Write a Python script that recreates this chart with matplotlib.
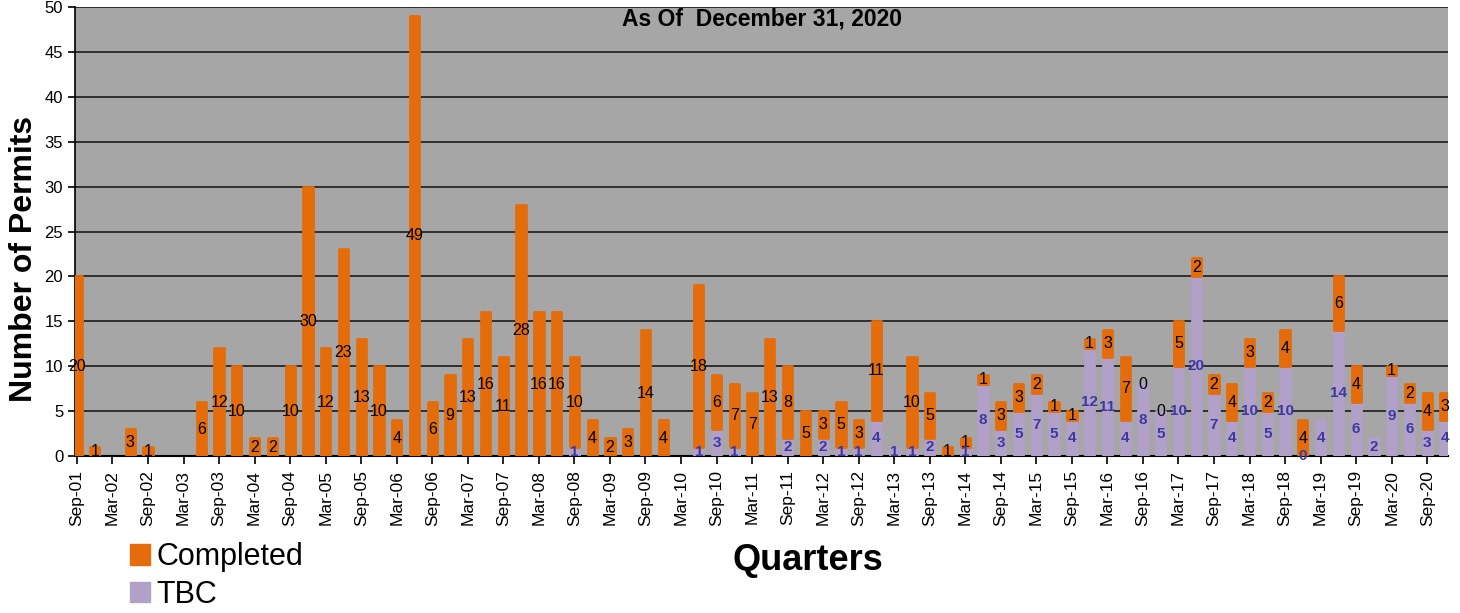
import numpy as np
import matplotlib
matplotlib.use("Agg")
import matplotlib.pyplot as plt
from matplotlib.patches import Patch

plt.rcParams['font.family'] = ['Liberation Sans', 'DejaVu Sans']
nan = np.nan
#------------------------------
# quarters Sep-01 .. Dec-20
quarters = ["Sep-01", "Dec-01"] + [m + "-%02d" % y for y in range(2, 21) for m in ["Mar", "Jun", "Sep", "Dec"]]

completed = [20, 1, nan, 3, 1, nan, nan, 6, 12, 10,
             2, 2, 10, 30, 12, 23, 13, 10, 4, 49,
             6, 9, 13, 16, 11, 28, 16, 16, 10, 4,
             2, 3, 14, 4, nan, 18, 6, 7, 7, 13,
             8, 5, 3, 5, 3, 11, nan, 10, 5, 1,
             1, 1, 3, 3, 2, 1, 1, 1, 3, 7,
             0, 0, 5, 2, 2, 4, 3, 2, 4, 4,
             nan, 6, 4, nan, 1, 2, 4, 3]

tbc = [nan] * 28 + [1, nan,
       nan, nan, nan, nan, nan, 1, 3, 1, nan, nan,
       2, nan, 2, 1, 1, 4, 1, 1, 2, nan,
       1, 8, 3, 5, 7, 5, 4, 12, 11, 4,
       8, 5, 10, 20, 7, 4, 10, 5, 10, 0,
       4, 14, 6, 2, 9, 6, 3, 4]

orange = "#e46c0a"
purple = "#b1a0c7"
lbl_purple = "#3b3a9e"
#------------------------------
x = np.arange(len(quarters))
c = np.array(completed, dtype=float)
t = np.array(tbc, dtype=float)
t0 = np.nan_to_num(t)
c0 = np.nan_to_num(c)
# zero-height segments are not drawn
t_draw = np.where(t0 > 0, t0, nan)
c_draw = np.where(c0 > 0, c0, nan)

fig = plt.figure(figsize=(14.6, 6.13), dpi=100)
ax = fig.add_axes([75/1460, 1 - 456/613, (1448-75)/1460, (456-7)/613])
ax.set_facecolor("#a6a6a6")

w = 0.52
ax.bar(x, t_draw, w, color=purple, edgecolor=purple, linewidth=2, joinstyle='round', zorder=3)
ax.bar(x, c_draw, w, bottom=t0, color=orange, edgecolor=orange, linewidth=2, joinstyle='round', zorder=3)

for i in x:
    if not np.isnan(c[i]):
        ax.text(i, t0[i] + c0[i]/2, "%d" % c[i], ha='center', va='center',
                fontsize=11.5, color='black', zorder=5, clip_on=False)
    if not np.isnan(t[i]):
        ax.text(i, t0[i]/2, "%d" % t[i], ha='center', va='center',
                fontsize=11, fontweight='bold', color=lbl_purple, zorder=5, clip_on=False)

ax.set_ylim(0, 50)
ax.set_yticks(range(0, 51, 5))
ax.set_xlim(-0.11, 77.17)
ax.set_xticks(x[::2])
ax.set_xticklabels(quarters[::2], rotation=90, fontsize=12.5)
ax.tick_params(axis='y', labelsize=12, length=5, width=1.2, color='black')
ax.tick_params(axis='x', length=6, width=1.2, color='black', pad=4)
ax.grid(axis='y', color='#262626', lw=1.3, zorder=1)
ax.set_axisbelow(True)
for s in ['top', 'right']:
    ax.spines[s].set_visible(False)
ax.spines['left'].set_linewidth(1.2)
ax.spines['bottom'].set_linewidth(1.5)

ax.set_ylabel("Number of Permits", fontsize=23, fontweight='bold')
ax.yaxis.set_label_coords(-0.026, 0.44)
fig.text(808/1460, 1 - 560/613, "Quarters", fontsize=26, fontweight='bold', ha='center', va='center')
ax.text(0.5, 1 - 12/449, "As Of  December 31, 2020", transform=ax.transAxes,
        fontsize=16.5, fontweight='bold', ha='center', va='center', zorder=6)

handles = [Patch(facecolor=orange, edgecolor=orange), Patch(facecolor=purple, edgecolor=purple)]
fig.legend(handles, ["Completed", "TBC"], loc='upper left', bbox_to_anchor=(118/1460, 1 - 530/613),
           frameon=False, fontsize=22, handlelength=0.65, handleheight=0.65,
           handletextpad=0.2, labelspacing=0.25, borderaxespad=0)

fig.savefig("out.png", dpi=100)
